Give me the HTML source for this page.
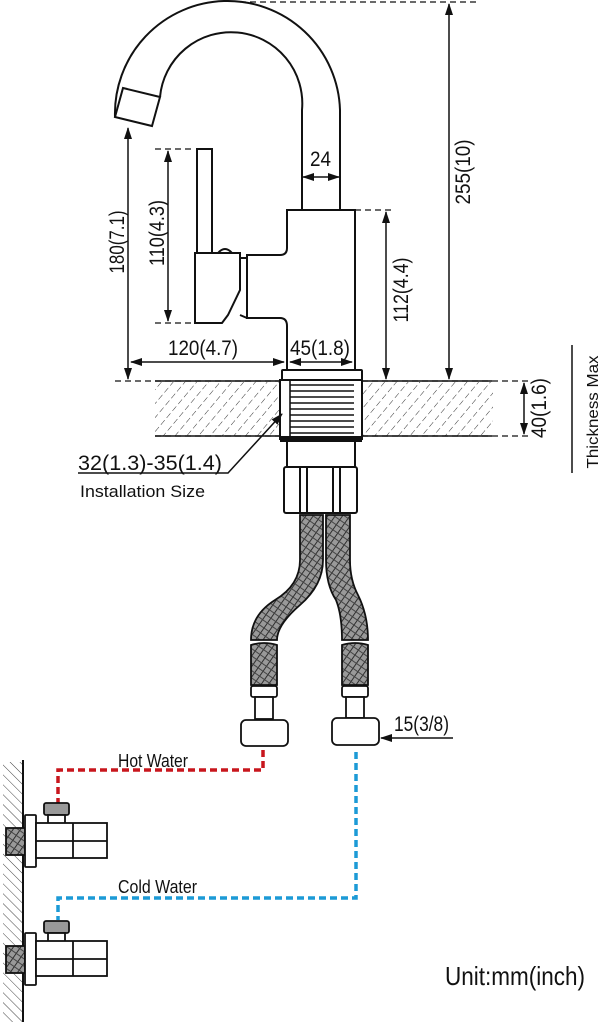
<!DOCTYPE html>
<html><head><meta charset="utf-8"><style>
html,body{margin:0;padding:0;background:#fff}
svg{display:block}
text{font-family:"Liberation Sans Narrow","Liberation Sans",sans-serif;fill:#111}
</style></head><body>
<svg width="602" height="1024" viewBox="0 0 602 1024" xmlns="http://www.w3.org/2000/svg">
<defs>
<pattern id="hatch" width="9" height="9" patternUnits="userSpaceOnUse" patternTransform="rotate(40)">
<line x1="0" y1="0" x2="0" y2="6" stroke="#333" stroke-width="1"/>
</pattern>
<pattern id="braid" width="6" height="6" patternUnits="userSpaceOnUse" patternTransform="rotate(35)">
<rect width="6" height="6" fill="#999"/>
<line x1="0" y1="0" x2="0" y2="6" stroke="#222" stroke-width="1.8"/>
<line x1="0" y1="3" x2="6" y2="3" stroke="#444" stroke-width="1"/>
</pattern>
<pattern id="whatch" width="7" height="7" patternUnits="userSpaceOnUse" patternTransform="rotate(-45)">
<line x1="0" y1="0" x2="0" y2="7" stroke="#444" stroke-width="1"/>
</pattern>
<marker id="ar" markerWidth="12" markerHeight="8" refX="11" refY="4" orient="auto" markerUnits="userSpaceOnUse">
<path d="M0,0 L12,4 L0,8 Z" fill="#111"/>
</marker>
<marker id="al" markerWidth="12" markerHeight="8" refX="1" refY="4" orient="auto" markerUnits="userSpaceOnUse">
<path d="M12,0 L0,4 L12,8 Z" fill="#111"/>
</marker>
</defs>
<g fill="none" stroke="#111" stroke-width="2">
<path d="M115,117 A108,108 0 0 1 340,110 L340,210"/>
<path d="M160,97 A70,70 0 0 1 302,110 L302,210"/>
<path d="M123,88 L160,97 L152,126 L115,117 Z"/>
<path d="M287,370 L287,326 Q287,318 280,318 L247,318 L247,255 L280,255 Q287,255 287,248 L287,210 L355,210 L355,370"/>
<rect x="197" y="149" width="15" height="104"/>
<path d="M195,253 L240,253 L240,290 L228,315 L222,323 L195,323 Z"/>
<path d="M240,258 L247,258 M240,315 L247,318"/>
<path d="M218,253 Q225,245 232,253"/>
<rect x="282" y="370" width="80" height="10" rx="1"/>
<rect x="280" y="380" width="82" height="59"/>
<rect x="281" y="437" width="80" height="4"/>
<path d="M287,441 L287,467 M355,441 L355,467"/>
<rect x="284" y="467" width="73" height="46" rx="2"/>
<path d="M300,467V513 M307,467V513 M333,467V513 M340,467V513"/>
</g>
<g stroke="#111" stroke-width="1.6">
<line x1="290" y1="385" x2="354" y2="385"/><line x1="290" y1="391" x2="354" y2="391"/><line x1="290" y1="397" x2="354" y2="397"/><line x1="290" y1="403" x2="354" y2="403"/><line x1="290" y1="409" x2="354" y2="409"/><line x1="290" y1="415" x2="354" y2="415"/><line x1="290" y1="421" x2="354" y2="421"/><line x1="290" y1="427" x2="354" y2="427"/><line x1="290" y1="433" x2="354" y2="433"/>
<line x1="290" y1="381" x2="290" y2="437"/>
</g>
<rect x="155" y="382" width="124" height="54" fill="url(#hatch)"/>
<rect x="363" y="382" width="130" height="54" fill="url(#hatch)"/>
<g stroke="#111" stroke-width="1.3" stroke-dasharray="6,4" fill="none">
<line x1="115" y1="381" x2="280" y2="381"/><line x1="362" y1="381" x2="530" y2="381"/>
<line x1="155" y1="436" x2="280" y2="436"/><line x1="362" y1="436" x2="530" y2="436"/>
<line x1="240" y1="2" x2="478" y2="2"/>
<line x1="355" y1="210" x2="395" y2="210"/>
<line x1="155" y1="149" x2="195" y2="149"/><line x1="155" y1="323" x2="195" y2="323"/>
</g>
<g stroke="#111" stroke-width="1.5">
<line x1="155" y1="381" x2="280" y2="381"/><line x1="362" y1="381" x2="492" y2="381"/>
<line x1="155" y1="436" x2="280" y2="436"/><line x1="362" y1="436" x2="492" y2="436"/>
</g>
<g stroke="#111" stroke-width="1.5" fill="none">
<line x1="449" y1="4" x2="449" y2="379" marker-start="url(#al)" marker-end="url(#ar)"/>
<line x1="386" y1="212" x2="386" y2="379" marker-start="url(#al)" marker-end="url(#ar)"/>
<line x1="303" y1="177" x2="339" y2="177" marker-start="url(#al)" marker-end="url(#ar)"/>
<line x1="128" y1="128" x2="128" y2="379" marker-start="url(#al)" marker-end="url(#ar)"/>
<line x1="168" y1="151" x2="168" y2="321" marker-start="url(#al)" marker-end="url(#ar)"/>
<line x1="131" y1="362" x2="284" y2="362" marker-start="url(#al)" marker-end="url(#ar)"/>
<line x1="290" y1="362" x2="352" y2="362" marker-start="url(#al)" marker-end="url(#ar)"/>
<line x1="524" y1="383" x2="524" y2="434" marker-start="url(#al)" marker-end="url(#ar)"/>
<line x1="572" y1="345" x2="572" y2="473"/>
<polyline points="78,473 228,473 282,414" marker-end="url(#ar)"/>
<line x1="453" y1="738" x2="381" y2="738" marker-end="url(#ar)"/>
</g>
<g font-size="21" lengthAdjust="spacingAndGlyphs">
<text x="310" y="166" textLength="21" lengthAdjust="spacingAndGlyphs">24</text>
<text transform="translate(470,172) rotate(-90)" text-anchor="middle" textLength="65" lengthAdjust="spacingAndGlyphs">255(10)</text>
<text transform="translate(408,290) rotate(-90)" text-anchor="middle" textLength="65" lengthAdjust="spacingAndGlyphs">112(4.4)</text>
<text transform="translate(124,242) rotate(-90)" text-anchor="middle" textLength="63" lengthAdjust="spacingAndGlyphs">180(7.1)</text>
<text transform="translate(164,233) rotate(-90)" text-anchor="middle" textLength="66" lengthAdjust="spacingAndGlyphs">110(4.3)</text>
<text x="168" y="355" textLength="70" lengthAdjust="spacingAndGlyphs">120(4.7)</text>
<text x="290" y="355" textLength="60" lengthAdjust="spacingAndGlyphs">45(1.8)</text>
<text transform="translate(546,408) rotate(-90)" text-anchor="middle" textLength="60" lengthAdjust="spacingAndGlyphs">40(1.6)</text>
<text x="78" y="470" textLength="144" lengthAdjust="spacingAndGlyphs">32(1.3)-35(1.4)</text>
<text x="394" y="731" textLength="55" lengthAdjust="spacingAndGlyphs">15(3/8)</text>
</g>
<text transform="translate(598,412) rotate(-90)" text-anchor="middle" font-size="16" textLength="113" lengthAdjust="spacingAndGlyphs">Thickness Max</text>
<text x="80" y="497" font-size="17" textLength="125" lengthAdjust="spacingAndGlyphs">Installation Size</text>
<g stroke="#111" stroke-width="1.8">
<path d="M300,515 L300,560 Q300,585 275,600 Q251,615 251,640 L277,640 Q277,625 300,605 Q323,585 323,560 L323,515 Z" fill="url(#braid)"/>
<path d="M326,515 L326,560 Q326,585 336,600 Q342,615 342,640 L368,640 Q368,615 358,595 Q350,580 350,560 L350,515 Z" fill="url(#braid)"/>
<path d="M251,645 Q264,641 277,645 L277,685 L251,685 Z" fill="url(#braid)"/>
<path d="M342,645 Q355,641 368,645 L368,685 L342,685 Z" fill="url(#braid)"/>
</g>
<g stroke="#111" stroke-width="1.8" fill="#fff">
<rect x="251" y="686" width="26" height="11" rx="2"/>
<rect x="255" y="697" width="18" height="22"/>
<rect x="241" y="720" width="47" height="26" rx="5"/>
<rect x="342" y="686" width="26" height="11" rx="2"/>
<rect x="346" y="697" width="18" height="21"/>
<rect x="332" y="718" width="47" height="27" rx="5"/>
</g>
<polyline points="263,750 263,770 58,770 58,803" fill="none" stroke="#c8161d" stroke-width="3.5" stroke-dasharray="7,4"/>
<polyline points="356,752 356,898 58,898 58,920" fill="none" stroke="#1c9ad6" stroke-width="3.5" stroke-dasharray="7,4"/>
<text x="118" y="767" font-size="18" textLength="70" lengthAdjust="spacingAndGlyphs">Hot Water</text>
<text x="118" y="893" font-size="18" textLength="79" lengthAdjust="spacingAndGlyphs">Cold Water</text>
<rect x="3" y="762" width="20" height="260" fill="url(#whatch)"/>
<line x1="23" y1="760" x2="23" y2="1022" stroke="#111" stroke-width="2"/>
<g stroke="#111" stroke-width="1.8" fill="#fff">
<g>
<rect x="6" y="828" width="19" height="27" fill="url(#braid)"/>
<rect x="44" y="803" width="25" height="12" rx="2" fill="#999"/>
<rect x="48" y="815" width="17" height="9"/>
<rect x="25" y="815" width="11" height="52" rx="1"/>
<rect x="36" y="823" width="71" height="35"/>
<line x1="73" y1="823" x2="73" y2="858"/><line x1="36" y1="841" x2="107" y2="841"/>
</g>
<g transform="translate(0,118)">
<rect x="6" y="828" width="19" height="27" fill="url(#braid)"/>
<rect x="44" y="803" width="25" height="12" rx="2" fill="#999"/>
<rect x="48" y="815" width="17" height="9"/>
<rect x="25" y="815" width="11" height="52" rx="1"/>
<rect x="36" y="823" width="71" height="35"/>
<line x1="73" y1="823" x2="73" y2="858"/><line x1="36" y1="841" x2="107" y2="841"/>
</g>
</g>
<text x="445" y="985" font-size="26" textLength="140" lengthAdjust="spacingAndGlyphs">Unit:mm(inch)</text>
</svg>
</body></html>
